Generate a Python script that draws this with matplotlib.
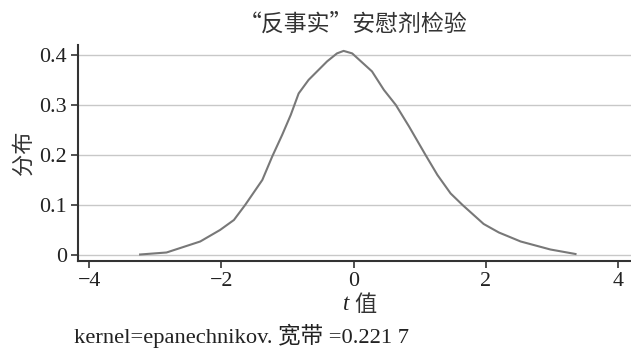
import matplotlib
matplotlib.use("Agg")
import matplotlib.pyplot as plt
import numpy as np

## Data ##
t_vals = [-3.23, -2.83, -2.32, -2.02, -1.81, -1.64, -1.38, -1.23, -1.08, -0.95,
          -0.83, -0.68, -0.40, -0.25, -0.15, -0.02, 0.28, 0.46, 0.64, 0.84,
          1.09, 1.27, 1.47, 1.65, 1.97, 2.20, 2.53, 2.98, 3.36]
density = [0.001, 0.005, 0.027, 0.05, 0.07, 0.10, 0.15, 0.197, 0.24, 0.28,
           0.323, 0.35, 0.387, 0.403, 0.408, 0.403, 0.367, 0.33, 0.30, 0.257,
           0.20, 0.16, 0.123, 0.10, 0.062, 0.045, 0.027, 0.011, 0.002]
x_ticks = [-4, -2, 0, 2, 4]
y_ticks = [0, 0.1, 0.2, 0.3, 0.4]
y_ticklabels = ["0", "0.1", "0.2", "0.3", "0.4"]

title = "“反事实”安慰剂检验"
ylab = "分布"
note = "kernel=epanechnikov. 宽带 =0.221 7"

plt.rcParams['font.family'] = ['Liberation Serif', 'Noto Sans CJK SC']
plt.rcParams['axes.unicode_minus'] = True

fig = plt.figure(figsize=(6.31, 3.48), dpi=100)
ax = fig.add_axes([0.1236, 0.25, 0.8764, 0.621])

for y in y_ticks:
    ax.axhline(y, color="#c8c8c8", lw=1.0, zorder=0)
ax.plot(t_vals, density, color="#787878", lw=1.5)

ax.set_xlim(-4.17, 4.2)
ax.set_ylim(-0.012, 0.42)
ax.set_xticks(x_ticks)
ax.set_xticklabels(["−4", "−2", "0", "2", "4"])
ax.set_yticks(y_ticks)
ax.set_yticklabels(y_ticklabels)
ax.tick_params(axis="both", labelsize=15.8, length=5, width=1.2, color="#333333",
               labelcolor="#222222", pad=3)
ax.spines["top"].set_visible(False)
ax.spines["right"].set_visible(False)
for s in ["left", "bottom"]:
    ax.spines[s].set_linewidth(1.5)
    ax.spines[s].set_color("#333333")

fig.text(0.56, 0.931, title, ha="center", va="center", fontsize=16.5,
         family=['Noto Sans CJK SC'], color="#333333")
fig.text(0.037, 0.56, ylab, ha="center", va="center", rotation=90, fontsize=16,
         family=['Noto Sans CJK SC'], color="#333333")
fig.text(0.554, 0.124, "t", ha="right", va="center", fontsize=16.5, style="italic",
         color="#222222")
fig.text(0.561, 0.124, "值", ha="left", va="center", fontsize=16,
         family=['Noto Sans CJK SC'], color="#333333")
fig.text(0.117, 0.034, note, ha="left", va="center", fontsize=16.2, color="#222222")

fig.savefig("out.png", dpi=100)
